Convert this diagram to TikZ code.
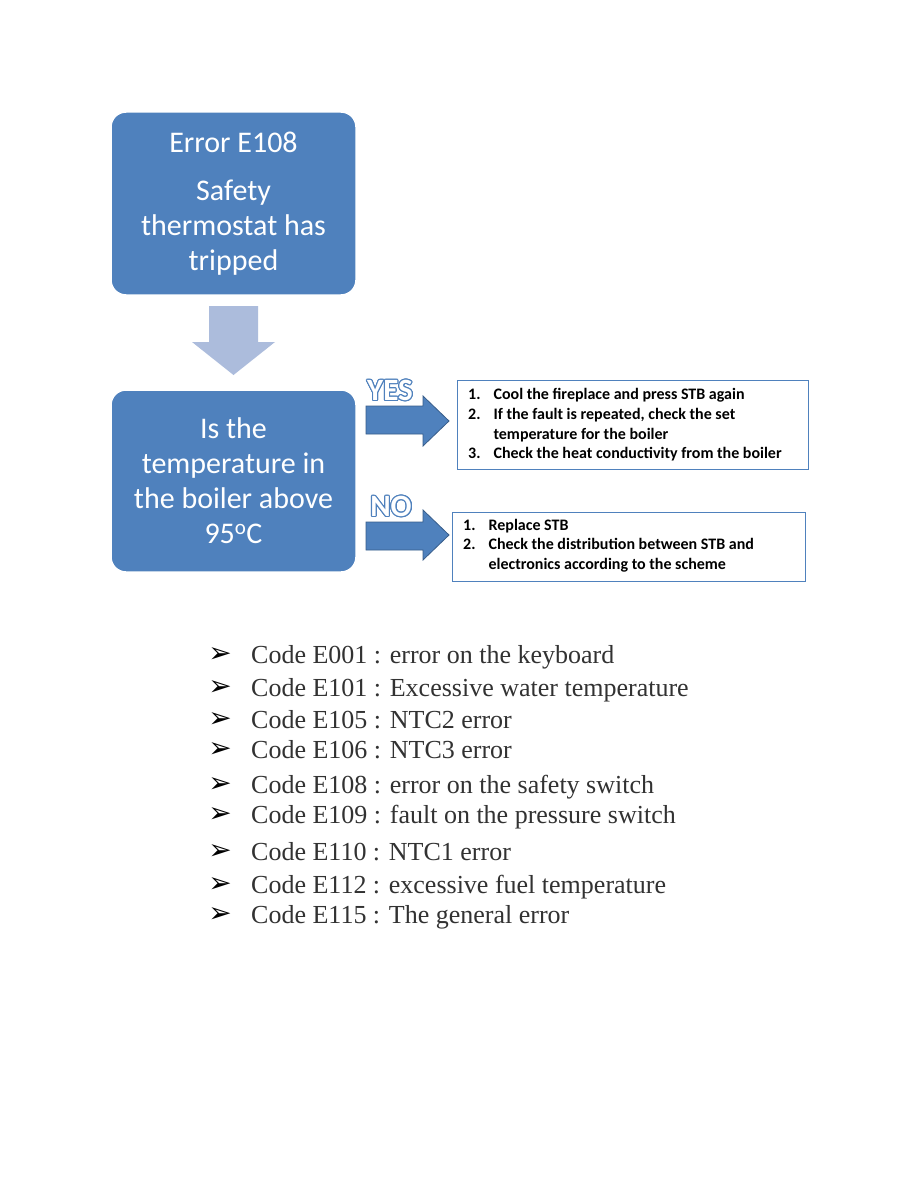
\documentclass[tikz,border=0pt]{standalone}
\usepackage{fontspec}
\setmainfont{Liberation Serif}
\newfontfamily\calib{Carlito}
\newfontfamily\symfont{DejaVu Sans}
\usepackage[copies]{contour}
\usepackage{tikz}
\usetikzlibrary{positioning}
\definecolor{boxblue}{RGB}{79,129,189}
\definecolor{boxedge}{RGB}{56,93,138}
\definecolor{downgrey}{RGB}{172,188,220}
\definecolor{codegrey}{RGB}{50,50,50}
\contourlength{1.1pt}

\begin{document}
\begin{tikzpicture}[x=1pt, y=-1pt,
    bigbox/.style={rectangle, rounded corners=15pt, fill=boxblue, draw=white, line width=1.5pt, minimum width=245pt, align=center, text=white, font=\calib\fontsize{30}{35}\selectfont},
    listbox/.style={rectangle, draw=boxblue, line width=0.9pt, inner sep=0pt},
    steps/.style={anchor=west, inner sep=0pt, align=left, font=\calib\bfseries\fontsize{16}{19.7}\selectfont},
    blockarrow/.style={fill=boxblue, draw=boxedge, line width=0.8pt, line join=miter},
    answer/.style={inner sep=0pt, font=\calib\bfseries\fontsize{31}{31}\selectfont},
    bullet/.style={inner sep=0pt, text height=16pt, text depth=0pt, text=black, font=\symfont\fontsize{28}{28}\selectfont},
    code/.style={anchor=base west, inner sep=0pt, text=codegrey, font=\fontsize{26}{26}\selectfont}]

\path[use as bounding box, fill=white] (0,0) rectangle (918,1188);

% flow chart
\node[bigbox, minimum height=183pt] (error) at (233.5,203.5) {Error E108\\[13pt]Safety\\thermostat has\\tripped};
\node[bigbox, minimum height=182pt] (question) at (233.5,481) {Is the\\temperature in\\the boiler above\\95\textsuperscript{o}C};

\fill[downgrey] (209,306) -- (258,306) -- (258,342) -- (275,342) -- (233.5,375) -- (192,342) -- (209,342) -- cycle;

% yes branch
\node[answer] (yes) at (390,391) {\contour{boxblue}{\textcolor{white}{YES}}};
\filldraw[blockarrow] (366,406) -- (423,406) -- (423,396) -- (449,421) -- (423,446) -- (423,434) -- (366,434) -- cycle;
\node[listbox, minimum width=351pt, minimum height=89pt] (yesbox) at (632.5,424.5) {};
\node[steps] (yessteps) at (468,425.5) {\begin{tabular}{@{}l@{\hspace{13pt}}l@{}}
1. & Cool the fireplace and press STB again\\
2. & If the fault is repeated, check the set\\
   & temperature for the boiler\\
3. & Check the heat conductivity from the boiler
\end{tabular}};

% no branch
\node[answer] (no) at (391,507) {\contour{boxblue}{\textcolor{white}{NO}}};
\filldraw[blockarrow] (366,522) -- (423,522) -- (423,510) -- (449,535) -- (423,560) -- (423,550) -- (366,550) -- cycle;
\node[listbox, minimum width=353pt, minimum height=69pt] (nobox) at (628.5,546.5) {};
\node[steps] (nosteps) at (463,546) {\begin{tabular}{@{}l@{\hspace{13pt}}l@{}}
1. & Replace STB\\
2. & Check the distribution between STB and\\
   & electronics according to the scheme
\end{tabular}};

% error codes
\foreach \i/\y in {1/663, 2/696, 3/728, 4/758, 5/793, 6/823, 7/860, 8/893, 9/923}
  \coordinate (line\i) at (251,\y);
\node[code] (code1) at (line1) {Code E001 : error on the keyboard};
\node[code] (code2) at (line2) {Code E101 : Excessive water temperature};
\node[code] (code3) at (line3) {Code E105 : NTC2 error};
\node[code] (code4) at (line4) {Code E106 : NTC3 error};
\node[code] (code5) at (line5) {Code E108 : error on the safety switch};
\node[code] (code6) at (line6) {Code E109 : fault on the pressure switch};
\node[code] (code7) at (line7) {Code E110 : NTC1 error};
\node[code] (code8) at (line8) {Code E112 : excessive fuel temperature};
\node[code] (code9) at (line9) {Code E115 : The general error};
\foreach \i in {1,...,9}
  \node[bullet, left=19pt of code\i.base west, yshift=8.5pt] (mark\i) {➢};

\end{tikzpicture}
\end{document}
